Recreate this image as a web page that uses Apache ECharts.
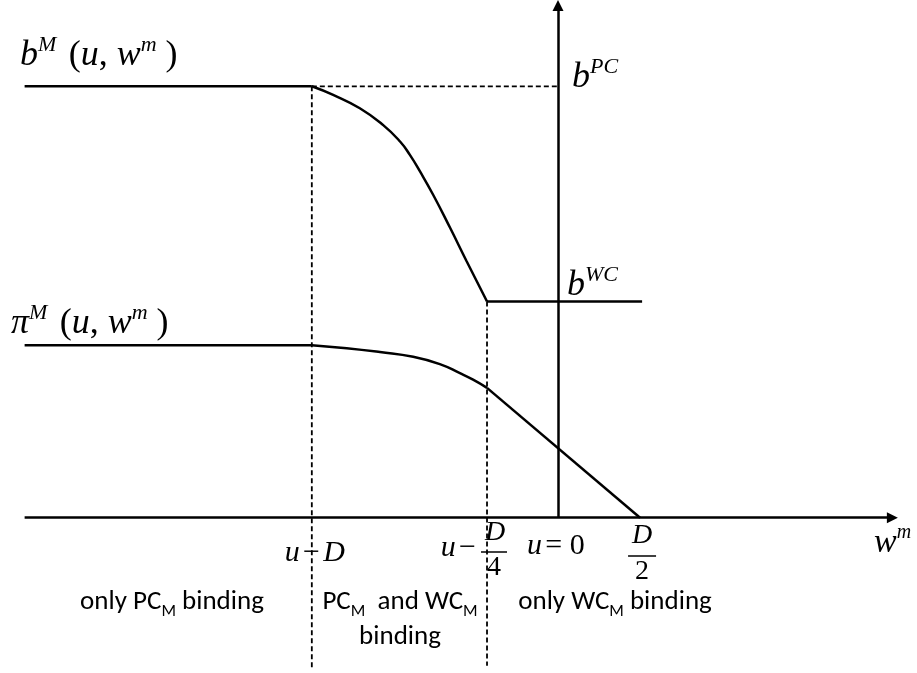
<!DOCTYPE html>
<html>
<head>
<meta charset="utf-8">
<style>
  html, body { margin: 0; padding: 0; background: #fff; }
  #chart { width: 917px; height: 673px; }
</style>
<script src="https://cdn.jsdelivr.net/npm/echarts@6/dist/echarts.min.js"></script>
</head>
<body>
<div id="chart"></div>
<script>
// x in drawing units: u=0 sits at 0, D/2 at 2 ; y: b^PC = 10
const ticksX = [-6, -1.73, 0, 2] // u-D, u-D/4, u=0, D/2

const bFlat = [[-13, 10], [-6, 10]]
const bCurve = [[-6, 10], [-5.48, 9.8], [-4.83, 9.49], [-4.26, 9.1], [-3.85, 8.72],
  [-3.61, 8.41], [-3.36, 8.02], [-3.04, 7.48], [-2.63, 6.72], [-2.23, 5.95], [-1.73, 5.01]]
const bWc = [[-1.73, 5.01], [2.05, 5.01]]

const piFlat = [[-13, 4], [-6, 4]]
const piCurve = [[-6, 4], [-5.15, 3.93], [-4.34, 3.84], [-3.53, 3.73], [-2.88, 3.56],
  [-2.39, 3.35], [-2.07, 3.2], [-1.73, 3.01]]
const piLinear = [[-1.73, 3.01], [2, 0]]

const pcGuide = [[-6, 10], [0, 10]]
const guideLeft = [[-6, 10], [-6, -3.52]]
const guideRight = [[-1.73, 5.01], [-1.73, -3.43]]

const axisX = [[-13, 0], [8.15, 0]]
const axisY = [[0, 0], [0, 11.87]]

const serif = '"Liberation Serif", "Times New Roman", serif'
const sans = 'Carlito, Lato, sans-serif'

const chart = echarts.init(document.getElementById('chart'))

const solidStyle = { color: '#000', width: 2.5 }
const dashStyle = { color: '#000', width: 1.8, type: [5, 3] }

function line(data, style, smooth) {
  return {
    type: 'line',
    data: data,
    symbol: 'none',
    smooth: smooth || false,
    silent: true,
    lineStyle: style,
    emphasis: { disabled: true }
  }
}

function mathRich(size, lh, supSize, supLh) {
  return {
    i: { fontFamily: serif, fontStyle: 'italic', fontSize: size, lineHeight: lh, color: '#000' },
    r: { fontFamily: serif, fontSize: size, lineHeight: lh, color: '#000' },
    sup: { fontFamily: serif, fontStyle: 'italic', fontSize: supSize, lineHeight: supLh, verticalAlign: 'top', color: '#000' }
  }
}

const bigRich = mathRich(36, 44, 22, 36)
const tickRich = mathRich(30, 36, 18, 22)
const fracRich = mathRich(28, 34, 18, 22)
const wRich = mathRich(34, 40, 20, 28)

const wordRich = {
  t: { fontFamily: sans, fontSize: 27, lineHeight: 35, color: '#000' },
  s: { fontFamily: sans, fontSize: 17, lineHeight: 18, verticalAlign: 'bottom', color: '#000' }
}

function txt(x, y, text, rich, align) {
  return {
    type: 'text',
    x: x,
    y: y,
    silent: true,
    style: {
      text: text,
      rich: rich,
      align: align || 'left',
      textAlign: align || 'left',
      verticalAlign: 'top',
      textVerticalAlign: 'top'
    }
  }
}

function bar(x1, x2, y) {
  return {
    type: 'line',
    silent: true,
    shape: { x1: x1, y1: y, x2: x2, y2: y },
    style: { stroke: '#000', lineWidth: 1.5 }
  }
}

const axesSeries = line(bFlat, solidStyle)
axesSeries.markLine = {
  silent: true,
  animation: false,
  symbol: ['none', 'triangle'],
  symbolSize: [11, 11],
  label: { show: false },
  emphasis: { disabled: true },
  lineStyle: { color: '#000', width: 2.5, type: 'solid' },
  data: [
    [{ coord: axisX[0] }, { coord: axisX[1] }],
    [{ coord: axisY[0] }, { coord: axisY[1] }]
  ]
}

chart.setOption({
  animation: false,
  grid: { left: 0, right: 0, top: 0, bottom: 0 },
  xAxis: { type: 'value', min: -13.6, max: 8.75, show: false },
  yAxis: { type: 'value', min: -3.6, max: 12, show: false },
  series: [
    axesSeries,
    line(bCurve, solidStyle, 0.5),
    line(bWc, solidStyle),
    line(piFlat, solidStyle),
    line(piCurve, solidStyle, 0.5),
    line(piLinear, solidStyle),
    line(pcGuide, dashStyle),
    line(guideLeft, dashStyle),
    line(guideRight, dashStyle)
  ]
})

// tick labels hang off the pixel position of each tick
const tp = ticksX.map(v => chart.convertToPixel({ xAxisIndex: 0 }, v))

chart.setOption({
  graphic: [
    txt(20, 34, '{i|b}{sup|M} {r| (}{i|u}{r|, }{i|w}{sup|m}{r| )}', bigRich),
    txt(11, 302, '{i|π}{sup|M} {r| (}{i|u}{r|, }{i|w}{sup|m}{r| )}', bigRich),
    txt(572, 56, '{i|b}{sup|PC}', bigRich),
    txt(567, 264, '{i|b}{sup|WC}', bigRich),

    txt(tp[0] + 3, 535, '{i|u} {r|−} {i|D}', tickRich, 'center'),
    txt(tp[1] - 11, 530, '{i|u} {r|−}', tickRich, 'right'),
    txt(tp[1] + 8, 516, '{i|D}', fracRich, 'center'),
    bar(tp[1] - 6, tp[1] + 20, 552),
    txt(tp[1] + 7, 551, '{r|4}', fracRich, 'center'),
    txt(tp[2] - 31, 528, '{i|u} {r|= 0}', tickRich),
    txt(tp[3] + 2, 519, '{i|D}', fracRich, 'center'),
    bar(tp[3] - 12, tp[3] + 16, 556),
    txt(tp[3] + 2, 555, '{r|2}', fracRich, 'center'),
    txt(874, 523, '{i|w}{sup|m}', wRich),

    txt(172, 585, '{t|only PC}{s|M}{t| binding}', wordRich, 'center'),
    txt(400, 585, '{t|PC}{s|M}{t|  and WC}{s|M}\n{t|binding}', wordRich, 'center'),
    txt(615, 585, '{t|only WC}{s|M}{t| binding}', wordRich, 'center')
  ]
})

window.addEventListener('resize', () => chart.resize())
</script>
</body>
</html>
